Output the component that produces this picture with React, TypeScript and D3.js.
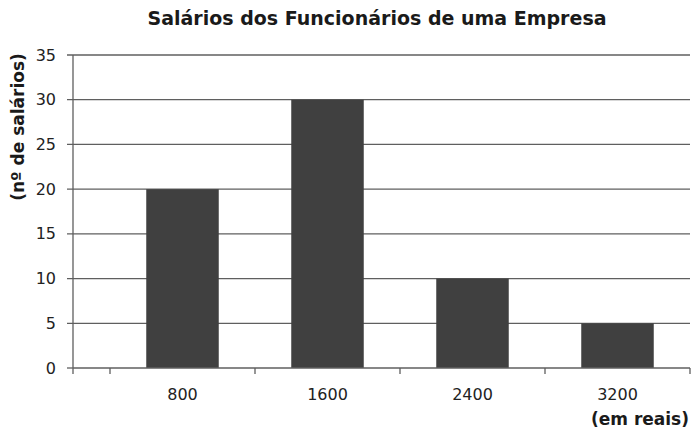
import * as d3 from "d3";
import React from "react";

const categories = ["800", "1600", "2400", "3200"];
const salaryCounts = [20, 30, 10, 5];
const yTicks = [0, 5, 10, 15, 20, 25, 30, 35];

const width = 692;
const height = 430;
const plotLeft = 73;
const bandStart = 110;
const plotRight = 690;
const plotTop = 55;
const plotBottom = 368;
const font = "Verdana, 'DejaVu Sans', sans-serif";
const lineColor = "#5f5f5f";

export default function App() {
  const x = d3
    .scaleBand()
    .domain(categories)
    .range([bandStart, plotRight])
    .paddingInner(0.5)
    .paddingOuter(0.25);

  const y = d3.scaleLinear().domain([0, 35]).range([plotBottom, plotTop]);

  // tick marks sit on the band edges, plus the axis end
  const bandEdges = categories.map((c) => x(c)! - x.step() * 0.25);
  bandEdges.push(plotRight);

  return (
    <svg
      width={width}
      height={height}
      style={{ position: "absolute", left: 0, top: 0, background: "#fff" }}
    >
      <text
        x={377}
        y={25}
        textAnchor="middle"
        fontFamily={font}
        fontWeight="bold"
        fontSize={19}
        fill="#1a1a1a"
      >
        Salários dos Funcionários de uma Empresa
      </text>

      {yTicks.map((t) => (
        <g key={t}>
          <line
            x1={plotLeft - 6}
            x2={t === 0 ? plotLeft : plotRight}
            y1={y(t)}
            y2={y(t)}
            stroke={lineColor}
            strokeWidth={1.3}
          />
          <text
            x={56}
            y={y(t)}
            dy="0.35em"
            textAnchor="end"
            fontFamily={font}
            fontSize={16}
            fill="#222"
          >
            {t}
          </text>
        </g>
      ))}

      {categories.map((c, i) => (
        <rect
          key={c}
          x={x(c)}
          y={y(salaryCounts[i])}
          width={x.bandwidth()}
          height={plotBottom - y(salaryCounts[i])}
          fill="#404040"
        />
      ))}

      <line x1={plotLeft} x2={plotLeft} y1={plotTop} y2={plotBottom + 6} stroke={lineColor} strokeWidth={1.3} />
      <line x1={plotLeft} x2={plotRight} y1={plotBottom} y2={plotBottom} stroke={lineColor} strokeWidth={1.3} />
      {bandEdges.map((e, i) => (
        <line key={i} x1={e} x2={e} y1={plotBottom} y2={plotBottom + 6} stroke={lineColor} strokeWidth={1.3} />
      ))}

      {categories.map((c) => (
        <text
          key={c}
          x={x(c)! + x.bandwidth() / 2}
          y={400}
          textAnchor="middle"
          fontFamily={font}
          fontSize={16}
          fill="#222"
        >
          {c}
        </text>
      ))}

      <text
        x={689}
        y={425}
        textAnchor="end"
        fontFamily={font}
        fontWeight="bold"
        fontSize={17}
        fill="#1a1a1a"
      >
        (em reais)
      </text>

      <text
        transform={`translate(24,127) rotate(-90)`}
        textAnchor="middle"
        fontFamily={font}
        fontWeight="bold"
        fontSize={17}
        fill="#1a1a1a"
      >
        (nº de salários)
      </text>
    </svg>
  );
}
